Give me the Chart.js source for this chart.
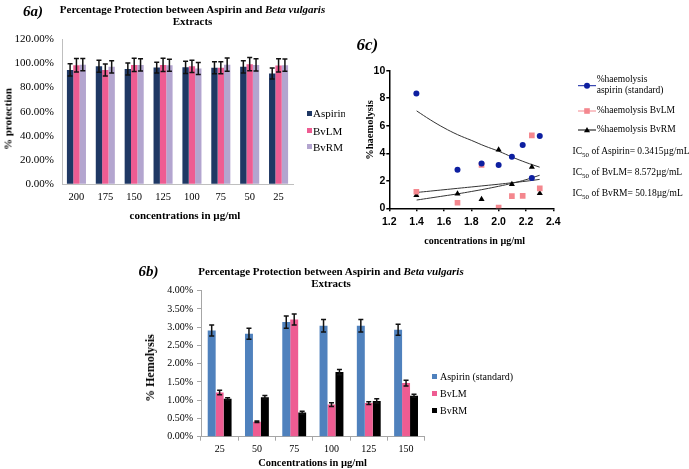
<!DOCTYPE html>
<html><head><meta charset="utf-8">
<script src="https://cdn.jsdelivr.net/npm/chart.js@4.4.1/dist/chart.umd.min.js"></script>
<style>
html,body{margin:0;padding:0;background:#fff;}
#wrap{position:relative;width:689px;height:469px;overflow:hidden;font-family:"Liberation Serif","Times New Roman",serif;color:#000;}
canvas{position:absolute;left:0;top:0;}
.t{position:absolute;white-space:nowrap;line-height:1;}
.c{transform:translate(-50%,-50%);text-align:center;}
.r{transform:translate(-50%,-50%) rotate(-90deg);}
.l{transform:translateY(-50%);}
.b{font-weight:bold;}
.pl{font-weight:bold;font-style:italic;}
.sq{position:absolute;width:5px;height:5px;}
</style></head>
<body><div id="wrap">
<canvas id="c6a" width="689" height="469"></canvas>
<canvas id="c6b" width="689" height="469"></canvas>
<canvas id="c6c" width="689" height="469"></canvas>

<!-- panel 6a texts -->
<div class="t l pl" style="left:23px;top:11px;font-size:15px;">6a)</div>
<div class="t c b" style="left:192.5px;top:16px;font-size:11px;line-height:11.7px;">Percentage Protection between Aspirin and <i>Beta vulgaris</i><br>Extracts</div>
<div class="t r b" style="left:7.5px;top:119px;font-size:11px;">% protection</div>
<div class="t c b" style="left:185px;top:215px;font-size:11px;">concentrations in µg/ml</div>
<div style="position:absolute;left:300px;top:100px;width:45px;height:60px;overflow:hidden;font-size:11px;">
  <div class="sq" style="left:7px;top:10.5px;background:#1F3864;"></div>
  <div class="t l" style="left:13px;top:13px;">Aspirin (</div>
  <div class="sq" style="left:7px;top:28px;background:#EE5C92;"></div>
  <div class="t l" style="left:13px;top:30.5px;">BvLM</div>
  <div class="sq" style="left:7px;top:44px;background:#B3A5CF;"></div>
  <div class="t l" style="left:13px;top:46.5px;">BvRM</div>
</div>

<!-- panel 6b texts -->
<div class="t l pl" style="left:138.5px;top:270.7px;font-size:15px;">6b)</div>
<div class="t c b" style="left:331px;top:276.5px;font-size:11px;line-height:12.4px;">Percentage Protection between Aspirin and <i>Beta vulgaris</i><br>Extracts</div>
<div class="t r b" style="left:149.5px;top:368px;font-size:12px;">% Hemolysis</div>
<div class="t c b" style="left:312.5px;top:462.7px;font-size:10.5px;">Concentrations in µg/ml</div>
<div style="position:absolute;left:0;top:0;font-size:10px;">
  <div class="sq" style="left:431.5px;top:374.2px;background:#4F81BD;"></div>
  <div class="t l" style="left:440px;top:376.7px;">Aspirin (standard)</div>
  <div class="sq" style="left:431.5px;top:391px;background:#EE5C92;"></div>
  <div class="t l" style="left:440px;top:393.5px;">BvLM</div>
  <div class="sq" style="left:431.5px;top:408px;background:#000;"></div>
  <div class="t l" style="left:440px;top:410.5px;">BvRM</div>
</div>

<!-- panel 6c texts -->
<div class="t l pl" style="left:356.5px;top:43.5px;font-size:17px;">6c)</div>
<div class="t r b" style="left:369.5px;top:130px;font-size:10.5px;">%haemolysis</div>
<div class="t c b" style="left:474.7px;top:240.7px;font-size:10px;">concentrations in µg/ml</div>
<div style="position:absolute;left:0;top:0;font-size:9.5px;">
  <svg style="position:absolute;left:577px;top:78px;" width="20" height="16">
    <line x1="1" y1="7.7" x2="19" y2="7.7" stroke="#0D1FA0" stroke-width="1"/>
    <circle cx="10" cy="7.7" r="3" fill="#0D1FA0"/>
  </svg>
  <div class="t l" style="left:596.7px;top:80px;">%haemolysis</div>
  <div class="t l" style="left:596.7px;top:91px;">aspirin (standard)</div>
  <svg style="position:absolute;left:577px;top:103px;" width="20" height="16">
    <line x1="1" y1="8" x2="19" y2="8" stroke="#F4878E" stroke-width="1"/>
    <rect x="7.2" y="5.2" width="5.6" height="5.6" fill="#F4878E"/>
  </svg>
  <div class="t l" style="left:596.7px;top:111px;">%haemolysis BvLM</div>
  <svg style="position:absolute;left:577px;top:122px;" width="20" height="16">
    <line x1="1" y1="8" x2="19" y2="8" stroke="#000" stroke-width="1"/>
    <polygon points="10,5 13,10.3 7,10.3" fill="#000"/>
  </svg>
  <div class="t l" style="left:596.7px;top:130px;">%haemolysis BvRM</div>
  <div class="t l" style="left:572.5px;top:153.3px;">IC<sub style="font-size:7px;">50</sub> of Aspirin= 0.3415µg/mL</div>
  <div class="t l" style="left:572.5px;top:174px;">IC<sub style="font-size:7px;">50</sub> of BvLM= 8.572µg/mL</div>
  <div class="t l" style="left:572.5px;top:195px;">IC<sub style="font-size:7px;">50</sub> of BvRM= 50.18µg/mL</div>
</div>
</div>

<script>
// ---------- DATA: panel 6a (% protection) ----------
const protCats = ['200', '175', '150', '125', '100', '75', '50', '25'];
const protAspirin = [94.5, 97.5, 95.2, 96.4, 96.6, 96.2, 97.0, 91.5];
const protAspirinErr = [5.0, 5.0, 5.0, 4.5, 5.0, 5.0, 5.0, 4.5];
const protBvLM = [98.3, 94.4, 98.6, 98.6, 97.4, 96.2, 99.2, 98.2];
const protBvLMErr = [5.5, 5.0, 5.5, 5.5, 5.0, 5.0, 5.5, 5.5];
const protBvRM = [98.8, 97.0, 98.6, 98.3, 95.6, 98.8, 98.6, 98.4];
const protBvRMErr = [5.0, 5.0, 5.0, 5.0, 5.0, 5.5, 5.0, 5.0];
const protTicks = [0, 20, 40, 60, 80, 100, 120];

// ---------- DATA: panel 6b (% hemolysis) ----------
const hemCats = ['25', '50', '75', '100', '125', '150'];
const hemAspirin = [2.91, 2.82, 3.14, 3.04, 3.04, 2.93];
const hemAspirinErr = [0.15, 0.15, 0.17, 0.17, 0.17, 0.15];
const hemBvLM = [1.21, 0.41, 3.21, 0.88, 0.92, 1.47];
const hemBvLMErr = [0.06, 0.02, 0.15, 0.05, 0.04, 0.08];
const hemBvRM = [1.04, 1.08, 0.66, 1.77, 0.98, 1.12];
const hemBvRMErr = [0.03, 0.05, 0.04, 0.07, 0.06, 0.04];

// ---------- DATA: panel 6c (log concentration vs %haemolysis) ----------
const logConc = [1.398, 1.699, 1.875, 2.0, 2.097, 2.176, 2.243, 2.301];
const haemAspirin = [8.35, 2.8, 3.25, 3.15, 3.75, 4.6, 2.2, 5.25];
const haemBvLM = [1.2, 0.4, 3.15, 0.05, 0.88, 0.9, 5.3, 1.45];
const haemBvRM = [0.95, 1.05, 0.65, 4.25, 1.75, null, 3.0, 1.1];
const fitX = [1.4, 1.5, 1.6, 1.7, 1.8, 1.9, 2.0, 2.1, 2.2, 2.3];
const fitAspirin = [7.08, 6.43, 5.85, 5.35, 4.94, 4.52, 4.15, 3.72, 3.33, 2.99];
const fitBvLM = [1.15, 1.25, 1.35, 1.45, 1.55, 1.65, 1.75, 1.86, 1.97, 2.1];
const fitBvRM = [0.6, 0.75, 0.9, 1.05, 1.22, 1.4, 1.6, 1.82, 2.08, 2.4];

// ---------- helpers ----------
const SERIF = 'Liberation Serif';
const SANS = 'Liberation Sans';
const errorBars = {
  id: 'errorBars',
  afterDatasetsDraw(chart) {
    const ctx = chart.ctx, ys = chart.scales.y;
    chart.data.datasets.forEach((ds, i) => {
      if (!ds.errors) return;
      const meta = chart.getDatasetMeta(i);
      meta.data.forEach((el, j) => {
        const v = ds.data[j], e = ds.errors[j];
        const top = ys.getPixelForValue(v + e), bot = ys.getPixelForValue(v - e);
        ctx.save();
        ctx.strokeStyle = '#111';
        ctx.lineWidth = 1.5;
        ctx.beginPath();
        ctx.moveTo(el.x, top); ctx.lineTo(el.x, bot);
        ctx.moveTo(el.x - 2.5, top); ctx.lineTo(el.x + 2.5, top);
        ctx.moveTo(el.x - 2.5, bot); ctx.lineTo(el.x + 2.5, bot);
        ctx.stroke();
        ctx.restore();
      });
    });
  }
};
const base = {responsive: false, animation: false, devicePixelRatio: 1,
  plugins: {legend: {display: false}, tooltip: {enabled: false}, title: {display: false}}};

// ---------- 6a ----------
new Chart(document.getElementById('c6a'), {
  type: 'bar',
  data: {labels: protCats, datasets: [
    {label: 'Aspirin (', data: protAspirin, errors: protAspirinErr, backgroundColor: '#1F3864'},
    {label: 'BvLM', data: protBvLM, errors: protBvLMErr, backgroundColor: '#EE5C92'},
    {label: 'BvRM', data: protBvRM, errors: protBvRMErr, backgroundColor: '#B3A5CF'}
  ]},
  options: Object.assign({}, base, {
    datasets: {bar: {barPercentage: 1, categoryPercentage: 0.66}},
    layout: {padding: {left: 0, top: 39, right: 396, bottom: 259.7}},
    scales: {
      x: {grid: {display: true, drawOnChartArea: false, drawTicks: false},
          border: {display: true, color: '#BFBFBF'},
          ticks: {padding: 7, color: '#000', font: {family: SERIF, size: 10.5}},
          afterFit(s) { s.height = 25; }},
      y: {min: 0, max: 120,
          afterBuildTicks(s) { s.ticks = protTicks.map(v => ({value: v})); },
          ticks: {padding: 8, color: '#000', font: {family: SERIF, size: 11},
                  callback: v => v.toFixed(2) + '%'},
          grid: {display: true, drawOnChartArea: false, drawTicks: false},
          border: {display: true, color: '#BFBFBF'},
          afterFit(s) { s.width = 62; }}
    }
  }),
  plugins: [errorBars]
});

// ---------- 6b ----------
new Chart(document.getElementById('c6b'), {
  type: 'bar',
  data: {labels: hemCats, datasets: [
    {label: 'Aspirin (standard)', data: hemAspirin, errors: hemAspirinErr, backgroundColor: '#4F81BD'},
    {label: 'BvLM', data: hemBvLM, errors: hemBvLMErr, backgroundColor: '#EE5C92'},
    {label: 'BvRM', data: hemBvRM, errors: hemBvRMErr, backgroundColor: '#000000'}
  ]},
  options: Object.assign({}, base, {
    datasets: {bar: {barPercentage: 1, categoryPercentage: 0.64}},
    layout: {padding: {left: 131, top: 290.7, right: 264.3, bottom: 12.3}},
    scales: {
      x: {grid: {display: true, drawOnChartArea: false, drawTicks: true, tickLength: 4, color: '#A6A6A6'},
          border: {display: true, color: '#A6A6A6'},
          ticks: {padding: 3, color: '#000', font: {family: SERIF, size: 10}},
          afterFit(s) { s.height = 20; }},
      y: {min: 0, max: 4,
          ticks: {stepSize: 0.5, padding: 4, color: '#000', font: {family: SERIF, size: 10},
                  callback: v => v.toFixed(2) + '%'},
          grid: {display: true, drawOnChartArea: false, drawTicks: true, tickLength: 4, color: '#A6A6A6'},
          border: {display: true, color: '#A6A6A6'},
          afterFit(s) { s.width = 70; }}
    }
  }),
  plugins: [errorBars]
});

// ---------- 6c ----------
const pts = (xs, ys) => xs.map((x, i) => ({x: x, y: ys[i]})).filter(p => p.y !== null);
new Chart(document.getElementById('c6c'), {
  type: 'scatter',
  data: {datasets: [
    {label: '%haemolysis aspirin (standard)', data: pts(logConc, haemAspirin), pointStyle: 'circle',
     pointRadius: 3, backgroundColor: '#0D1FA0', borderColor: '#0D1FA0', borderWidth: 0},
    {label: '%haemolysis BvLM', data: pts(logConc, haemBvLM), pointStyle: 'rect',
     pointRadius: 4, backgroundColor: '#F4878E', borderColor: '#F4878E', borderWidth: 0},
    {label: '%haemolysis BvRM', data: pts(logConc, haemBvRM), pointStyle: 'triangle',
     pointRadius: 3.5, backgroundColor: '#000', borderColor: '#000', borderWidth: 0},
    {label: 'fit aspirin', data: pts(fitX, fitAspirin), showLine: true, pointRadius: 0,
     borderColor: '#333', borderWidth: 1, tension: 0.4},
    {label: 'fit BvLM', data: pts(fitX, fitBvLM), showLine: true, pointRadius: 0,
     borderColor: '#333', borderWidth: 1, tension: 0.4},
    {label: 'fit BvRM', data: pts(fitX, fitBvRM), showLine: true, pointRadius: 0,
     borderColor: '#333', borderWidth: 1, tension: 0.4}
  ]},
  options: Object.assign({}, base, {
    layout: {padding: {left: 349.3, top: 70.7, right: 135.7, bottom: 240.7}},
    scales: {
      x: {type: 'linear', min: 1.2, max: 2.4,
          ticks: {stepSize: 0.2, padding: 5, color: '#000', font: {family: SANS, size: 10.5, weight: 'bold'},
                  callback: v => v.toFixed(1)},
          grid: {display: true, drawOnChartArea: false, drawTicks: true, tickLength: 3, color: '#000', lineWidth: 1.5},
          border: {display: true, color: '#000', width: 1.5},
          afterFit(s) { s.height = 20; }},
      y: {min: 0, max: 10,
          ticks: {stepSize: 2, padding: 1, color: '#000', font: {family: SANS, size: 10.5, weight: 'bold'}},
          grid: {display: true, drawOnChartArea: false, drawTicks: true, tickLength: 3, color: '#000', lineWidth: 1.5},
          border: {display: true, color: '#000', width: 1.5},
          afterFit(s) { s.width = 40; }}
    }
  })
});
</script>
</body></html>
